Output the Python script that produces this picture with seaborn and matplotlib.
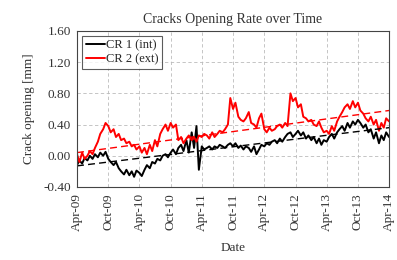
import numpy as np
import pandas as pd
import matplotlib
matplotlib.use("Agg")
import matplotlib.pyplot as plt
import seaborn as sns

# ---------------- data (semi-monthly readings, Apr-09 .. Apr-14) ----------------
cr1_int = [
    -0.12, -0.06, -0.10, -0.03, -0.06, 0.00, -0.04, 0.02, -0.02, 0.04, 0.00, 0.05,
    -0.04, -0.08, -0.12, -0.08, -0.16, -0.20,
    -0.24, -0.18, -0.25, -0.20, -0.27, -0.19, -0.22, -0.26, -0.18, -0.12, -0.16, -0.08,
    -0.10, -0.04, -0.06, 0.00, 0.02, -0.02, 0.04, 0.08, 0.02, 0.10, 0.14, 0.06,
    0.20, 0.04, 0.30, 0.10, 0.38, -0.18, 0.12, 0.08, 0.10, 0.12, 0.08, 0.12,
    0.10, 0.14, 0.12, 0.10, 0.14, 0.16, 0.12, 0.16, 0.10, 0.13, 0.08, 0.12,
    0.10, 0.05, 0.12, 0.02, 0.08, 0.14, 0.12, 0.16, 0.14, 0.18, 0.20, 0.16,
    0.22, 0.18, 0.24, 0.28, 0.30, 0.24, 0.28, 0.32, 0.26, 0.30, 0.22, 0.26,
    0.20, 0.24, 0.16, 0.22, 0.14, 0.20, 0.18, 0.24, 0.28, 0.22, 0.30, 0.34,
    0.38, 0.32, 0.42, 0.36, 0.44, 0.40, 0.46, 0.42, 0.36, 0.40, 0.30, 0.34,
    0.22, 0.30, 0.16, 0.26, 0.20, 0.30, 0.24,
]
cr2_ext = [
    0.02, -0.08, 0.04, -0.04, 0.00, 0.06, 0.02, 0.10, 0.18, 0.28, 0.34, 0.42,
    0.38, 0.30, 0.34, 0.24, 0.28, 0.20,
    0.22, 0.16, 0.18, 0.12, 0.14, 0.08, 0.12, 0.04, 0.10, 0.02, 0.14, 0.06,
    0.20, 0.12, 0.28, 0.34, 0.40, 0.32, 0.42, 0.36, 0.40, 0.20, 0.24, 0.16,
    0.22, 0.26, 0.20, 0.24, 0.18, 0.26, 0.24, 0.28, 0.26, 0.22, 0.30, 0.24,
    0.28, 0.32, 0.30, 0.34, 0.40, 0.74, 0.60, 0.68, 0.50, 0.46, 0.44, 0.48,
    0.56, 0.42, 0.40, 0.36, 0.48, 0.54, 0.34, 0.30, 0.36, 0.32, 0.34, 0.38,
    0.40, 0.36, 0.42, 0.38, 0.80, 0.70, 0.74, 0.62, 0.66, 0.50, 0.48, 0.44,
    0.46, 0.40, 0.38, 0.44, 0.36, 0.30, 0.32, 0.28, 0.38, 0.32, 0.44, 0.50,
    0.56, 0.62, 0.66, 0.60, 0.70, 0.62, 0.68, 0.58, 0.54, 0.48, 0.44, 0.50,
    0.40, 0.46, 0.32, 0.42, 0.36, 0.48, 0.44,
]
trend_dates = ["2009-04-01", "2014-04-01"]
trend_cr1 = [-0.13, 0.36]
trend_cr2 = [0.04, 0.58]
tick_dates_str = ["2009-04-01", "2009-10-01", "2010-04-01", "2010-10-01",
                  "2011-04-01", "2011-10-01", "2012-04-01", "2012-10-01",
                  "2013-04-01", "2013-10-01", "2014-04-01"]
tick_labels = ["Apr-09", "Oct-09", "Apr-10", "Oct-10", "Apr-11", "Oct-11",
               "Apr-12", "Oct-12", "Apr-13", "Oct-13", "Apr-14"]
y_ticks = [-0.40, 0.00, 0.40, 0.80, 1.20, 1.60]

dates = pd.date_range("2009-04-01", "2014-04-01", freq="SMS")
df = pd.DataFrame({"date": dates, "CR 1 (int)": cr1_int, "CR 2 (ext)": cr2_ext})
tdf = pd.DataFrame({"date": pd.to_datetime(trend_dates),
                    "t1": trend_cr1, "t2": trend_cr2})
tick_dates = pd.to_datetime(tick_dates_str)

# ---------------- style ----------------
sns.set_style("white")
plt.rcParams["font.family"] = ["Liberation Serif", "DejaVu Serif"]

fig = plt.figure(figsize=(3.97, 2.60), dpi=100)
ax = fig.add_axes([0.194, 0.281, 0.786, 0.600])

sns.lineplot(data=df, x="date", y="CR 1 (int)", color="black", lw=1.4,
             ax=ax, label="CR 1 (int)")
sns.lineplot(data=df, x="date", y="CR 2 (ext)", color="#ff0000", lw=1.4,
             ax=ax, label="CR 2 (ext)")
sns.lineplot(data=tdf, x="date", y="t1", color="black", lw=1.0,
             ax=ax, linestyle=(0, (5, 3)), legend=False)
sns.lineplot(data=tdf, x="date", y="t2", color="#ff0000", lw=1.0,
             ax=ax, linestyle=(0, (5, 3)), legend=False)

ax.set_xlim(tick_dates[0], tick_dates[-1])
ax.set_xticks(tick_dates)
ax.set_xticklabels(tick_labels, rotation=90, fontsize=9.5)
ax.set_ylim(-0.40, 1.60)
ax.set_yticks(y_ticks)
ax.set_yticklabels([f"{v:.2f}" for v in y_ticks], fontsize=9.5)

ax.grid(True, color="#bbbbbb", linestyle=(0, (4, 3)), lw=0.6)
for s in ax.spines.values():
    s.set_color("#444444")
    s.set_linewidth(0.8)
ax.tick_params(axis="both", direction="inout", length=5, width=0.8,
               colors="#333333", labelcolor="#333333", pad=2)

ax.set_title("Cracks Opening Rate over Time", fontsize=10, color="#333333", pad=6)
ax.set_xlabel("Date", fontsize=9.5, color="#333333", labelpad=8)
ax.set_ylabel("Crack opening [mm]", fontsize=9.5, color="#333333", labelpad=6)

leg = ax.legend(loc="upper left", fontsize=9, frameon=True, fancybox=False,
                handlelength=1.5, handletextpad=0.1, borderpad=0.3,
                labelspacing=0.1, borderaxespad=0.4)
leg.get_frame().set_edgecolor("#333333")
leg.get_frame().set_linewidth(0.8)

fig.savefig("out.png", dpi=100)
